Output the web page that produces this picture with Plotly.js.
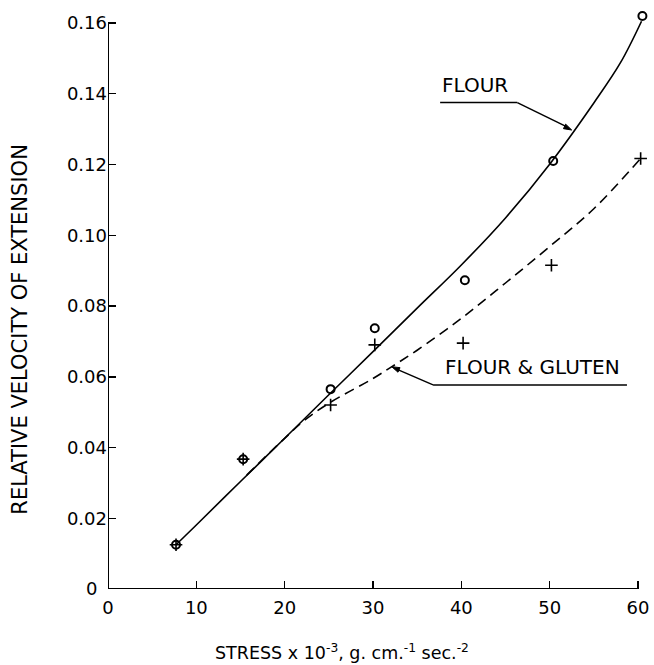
<!DOCTYPE html>
<html>
<head>
<meta charset="utf-8">
<script src="https://cdn.plot.ly/plotly-3.0.1.min.js"></script>
<style>html,body{margin:0;padding:0;background:#fff;}#chart{width:654px;height:665px;}</style>
</head>
<body>
<div id="chart"></div>
<script>
// Observed points
const flourX = [7.7, 15.3, 25.2, 30.2, 40.4, 50.4, 60.5];
const flourY = [0.0125, 0.0367, 0.0565, 0.0737, 0.0873, 0.1210, 0.1620];
const glutenX = [7.7, 15.3, 25.2, 30.2, 40.2, 50.2, 60.3];
const glutenY = [0.0125, 0.0367, 0.0520, 0.0690, 0.0695, 0.0915, 0.1217];

// Hand-drawn fitted curves
const flourCurveX = [7.7, 10, 15, 20, 25, 30, 35, 40, 45, 50, 55, 58, 60.4];
const flourCurveY = [0.0125, 0.0181, 0.0304, 0.0426, 0.0549, 0.0671, 0.0794, 0.0916, 0.1049, 0.1201, 0.1374, 0.1487, 0.1605];
const glutenCurveX = [15.7, 20, 22.3, 25, 30, 32.1, 35, 40, 45, 50, 55, 60.3];
const glutenCurveY = [0.0322, 0.0426, 0.0478, 0.0525, 0.0595, 0.0628, 0.0675, 0.0765, 0.0865, 0.0968, 0.1075, 0.1217];

const xTicks = [0, 10, 20, 30, 40, 50, 60];
const xTickText = ["0", "10", "20", "30", "40", "50", "60"];
const yTicks = [0.02, 0.04, 0.06, 0.08, 0.10, 0.12, 0.14, 0.16];
const yTickText = ["0.02", "0.04", "0.06", "0.08", "0.10", "0.12", "0.14", "0.16"];
const yZeroLabel = "0";

const F = "DejaVu Sans, Arial, sans-serif";

const traces = [
  {x: flourCurveX, y: flourCurveY, mode: "lines", line: {color: "#000", width: 1.6, shape: "spline", smoothing: 1}, hoverinfo: "skip", showlegend: false},
  {x: glutenCurveX, y: glutenCurveY, mode: "lines", line: {color: "#000", width: 1.6, dash: "10px,6px", shape: "spline", smoothing: 1}, hoverinfo: "skip", showlegend: false},
  {x: flourX, y: flourY, mode: "markers", marker: {symbol: "circle-open", size: 8, color: "#000", line: {width: 2, color: "#000"}}, cliponaxis: false, showlegend: false},
  {x: glutenX, y: glutenY, mode: "markers", marker: {symbol: "cross-thin-open", size: 9, color: "#000", line: {width: 1.6, color: "#000"}}, cliponaxis: false, showlegend: false}
];

const layout = {
  width: 654, height: 665,
  margin: {l: 108, r: 8, t: 11, b: 76},
  paper_bgcolor: "#fff", plot_bgcolor: "#fff",
  font: {family: F, color: "#000", size: 18},
  showlegend: false,
  xaxis: {
    range: [0, 60.906], tickvals: xTicks, ticktext: xTickText,
    ticks: "inside", ticklen: 8, tickwidth: 1.5, tickcolor: "#000",
    ticklabelstandoff: 6,
    showline: false, showgrid: false, zeroline: false,
    tickfont: {family: F, size: 18, color: "#000"}
  },
  yaxis: {
    range: [0, 0.16339], tickvals: yTicks, ticktext: yTickText,
    ticks: "inside", ticklen: 8, tickwidth: 1.5, tickcolor: "#000",
    showline: false, showgrid: false, zeroline: false,
    tickfont: {family: F, size: 18, color: "#000"}
  },
  shapes: [
    // axis lines ending at 60 and 0.16
    {type: "line", xref: "x", yref: "y", x0: 0, y0: 0, x1: 60, y1: 0, line: {color: "#000", width: 2}},
    {type: "line", xref: "x", yref: "y", x0: 0, y0: 0, x1: 0, y1: 0.16, line: {color: "#000", width: 2}},
    // FLOUR underline + leader + arrowhead
    {type: "line", xref: "x", yref: "y", x0: 37.6, y0: 0.1375, x1: 46.34, y1: 0.1375, line: {color: "#000", width: 1.5}},
    {type: "line", xref: "x", yref: "y", x0: 46.34, y0: 0.1375, x1: 51.9, y1: 0.1307, line: {color: "#000", width: 1.5}},
    {type: "path", xref: "x", yref: "y", path: "M52.494,0.12975 L51.559,0.13013 L51.813,0.13140 Z", fillcolor: "#000", line: {color: "#000", width: 1}},
    // FLOUR & GLUTEN underline + leader + arrowhead
    {type: "line", xref: "x", yref: "y", x0: 36.8, y0: 0.0577, x1: 58.75, y1: 0.0577, line: {color: "#000", width: 1.5}},
    {type: "line", xref: "x", yref: "y", x0: 36.8, y0: 0.0577, x1: 32.8, y1: 0.0620, line: {color: "#000", width: 1.5}},
    {type: "path", xref: "x", yref: "y", path: "M32.117,0.06284 L33.059,0.06257 L32.830,0.06128 Z", fillcolor: "#000", line: {color: "#000", width: 1}}
  ],
  annotations: [
    {text: yZeroLabel, xref: "x", yref: "y", x: 0, y: 0, xanchor: "center", yanchor: "middle", xshift: -17, yshift: 1, showarrow: false, font: {family: F, size: 18, color: "#000"}},
    {text: "FLOUR", xref: "x", yref: "y", x: 37.6, y: 0.1385, xanchor: "left", yanchor: "bottom", showarrow: false, font: {family: F, size: 20, color: "#000"}},
    {text: "FLOUR &amp; GLUTEN", xref: "x", yref: "y", x: 37.9, y: 0.0589, xanchor: "left", yanchor: "bottom", showarrow: false, font: {family: F, size: 20, color: "#000"}},
    {text: "RELATIVE VELOCITY OF EXTENSION", xref: "x", yref: "y", x: 0, y: 0.0733, xanchor: "center", yanchor: "middle", xshift: -88, textangle: -90, showarrow: false, font: {family: F, size: 21, color: "#000"}},
    {text: "STRESS x 10<sup>-3</sup>, g. cm.<sup>-1</sup> sec.<sup>-2</sup>", xref: "x", yref: "y", x: 26.5, y: 0, xanchor: "center", yanchor: "top", yshift: -50, showarrow: false, font: {family: F, size: 17.5, color: "#000"}}
  ]
};

Plotly.newPlot("chart", traces, layout, {staticPlot: true, displayModeBar: false});
</script>
</body>
</html>
